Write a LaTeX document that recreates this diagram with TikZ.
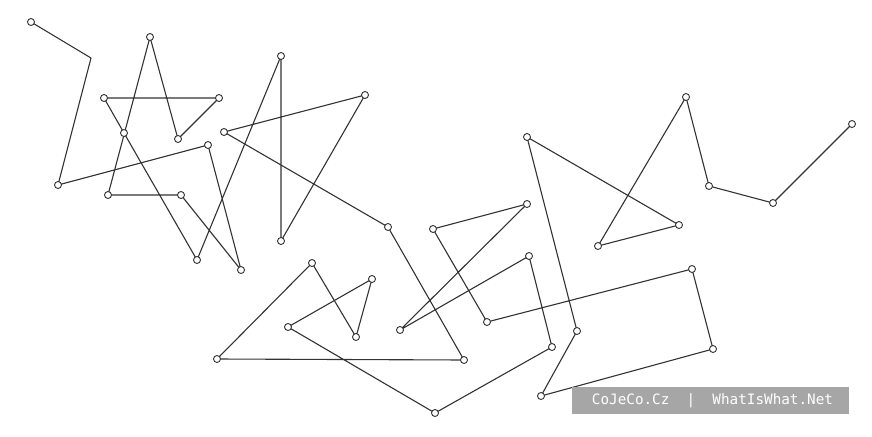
\documentclass[tikz,border=0pt]{standalone}
\usepackage{fontspec}
\newfontfamily\markfont{DejaVu Sans Mono}
\begin{document}
\begin{tikzpicture}[x=1pt,y=-1pt,
  dot/.style={circle,draw=black!80,fill=white,line width=0.9pt,inner sep=0pt,minimum size=7pt},
  edge/.style={draw=black!80,line width=1.1pt,line join=round}]
\useasboundingbox (0,0) rectangle (872,436);
\fill[white] (0,0) rectangle (872,436);
% vertices
\coordinate (b) at (91,58);
\foreach \n/\x/\y in {a/31/22, c/58/185, d/208/145, e/241/270, f/181/195, g/108/195,
  h/150/37, i/178/139, j/219/98, k/104/98, l/124/133, m/197/260, n/281/56, o/281/241,
  p/365/95, q/224/132, r/388/227, s/464/360, t/217/359, u/312/263, v/356/337, w/372/279,
  x/288/327, y/435/413, z/552/347, aa/529/256, ab/400/330, ac/527/204, ad/433/229,
  ae/487/322, af/692/269, ag/713/349, ah/541/396, ai/577/331, aj/527/137, ak/679/225,
  al/598/246, am/686/97, an/709/186, ao/773/203, ap/852/124}
  {\coordinate (\n) at (\x,\y);}
\draw[edge] (a) -- (b) -- (c) -- (d) -- (e) -- (f) -- (g) -- (h) -- (i) -- (j) -- (k)
  -- (l) -- (m) -- (n) -- (o) -- (p) -- (q) -- (r) -- (s) -- (t) -- (u) -- (v) -- (w)
  -- (x) -- (y) -- (z) -- (aa) -- (ab) -- (ac) -- (ad) -- (ae) -- (af) -- (ag) -- (ah)
  -- (ai) -- (aj) -- (ak) -- (al) -- (am) -- (an) -- (ao) -- (ap);
\foreach \n in {a,c,d,e,f,g,h,i,j,k,l,m,n,o,p,q,r,s,t,u,v,w,x,y,z,aa,ab,ac,ad,ae,af,ag,ah,ai,aj,ak,al,am,an,ao,ap}
  {\node[dot] (v\n) at (\n) {};}
% label box
\node[fill=black!35,minimum width=277pt,minimum height=27pt,inner sep=0pt] (mark) at (710.5,400.5) {};
\node[text=white,inner sep=0pt,font=\markfont\fontsize{14.3}{14.3}\selectfont] (marktext) at (712.5,400.5)
  {CoJeCo.Cz\ \ |\ \ WhatIsWhat.Net};
\end{tikzpicture}
\end{document}
